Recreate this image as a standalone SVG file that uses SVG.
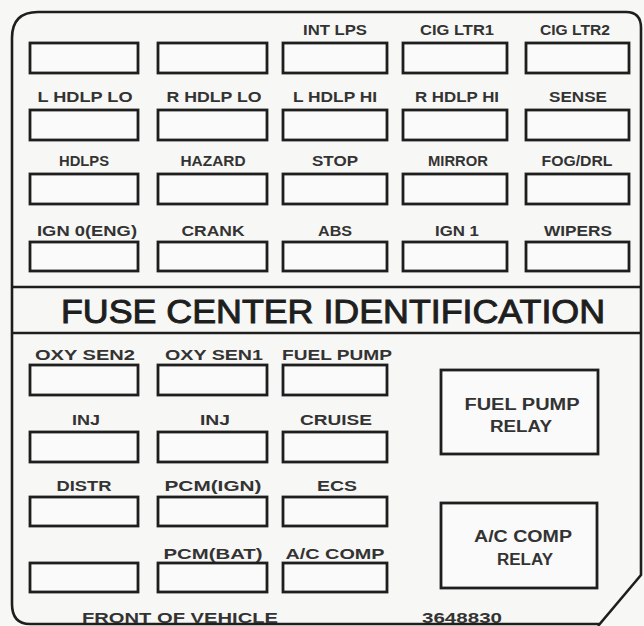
<svg xmlns="http://www.w3.org/2000/svg" width="644" height="626" viewBox="0 0 644 626">
<style>
.bg{fill:#f7f7f5}
.fr{fill:none;stroke:#1e1e1e;stroke-width:2.6;stroke-linejoin:round}
.fu{fill:#fafafa;stroke:#1e1e1e;stroke-width:2.8}
.ln{stroke:#1e1e1e;stroke-width:2.6}
.t{font-family:"Liberation Sans",Arial,sans-serif;font-weight:bold;font-size:14px;fill:#333;text-anchor:middle}
.r{font-size:16px}
.ttl{font-family:"Liberation Sans",Arial,sans-serif;font-size:34px;fill:#1e1e1e;stroke:#1e1e1e;stroke-width:1;text-anchor:middle}
</style>
<rect class="bg" x="0" y="0" width="644" height="626"/>
<path class="fr" d="M12,38 Q12,12 38,12 L626,12 Q641,12 641,28 L641,575 L598,626 M12,38 L12,604 Q12,624 30,624 L600,624"/>
<line class="ln" x1="12" y1="287" x2="641" y2="287"/>
<line class="ln" x1="12" y1="333" x2="641" y2="333"/>
<text class="ttl" x="333" y="323" textLength="544" lengthAdjust="spacingAndGlyphs">FUSE CENTER IDENTIFICATION</text>

<g id="fuse-r1c1"><rect class="fu" x="30" y="43" width="108" height="30"/></g>
<g id="fuse-r1c2"><rect class="fu" x="158" y="43" width="109" height="30"/></g>
<g id="fuse-int-lps"><text class="t" x="335" y="35" textLength="64" lengthAdjust="spacingAndGlyphs">INT LPS</text><rect class="fu" x="283" y="43" width="104" height="30"/></g>
<g id="fuse-cig-ltr1"><text class="t" x="457" y="35" textLength="74" lengthAdjust="spacingAndGlyphs">CIG LTR1</text><rect class="fu" x="403" y="43" width="104" height="30"/></g>
<g id="fuse-cig-ltr2"><text class="t" x="575" y="35" textLength="70" lengthAdjust="spacingAndGlyphs">CIG LTR2</text><rect class="fu" x="526" y="43" width="103" height="30"/></g>

<g id="fuse-l-hdlp-lo"><text class="t" x="85" y="102" textLength="95" lengthAdjust="spacingAndGlyphs">L HDLP LO</text><rect class="fu" x="30" y="110" width="108" height="30"/></g>
<g id="fuse-r-hdlp-lo"><text class="t" x="214" y="102" textLength="95" lengthAdjust="spacingAndGlyphs">R HDLP LO</text><rect class="fu" x="158" y="110" width="109" height="30"/></g>
<g id="fuse-l-hdlp-hi"><text class="t" x="335" y="102" textLength="84" lengthAdjust="spacingAndGlyphs">L HDLP HI</text><rect class="fu" x="283" y="110" width="104" height="30"/></g>
<g id="fuse-r-hdlp-hi"><text class="t" x="457" y="102" textLength="84" lengthAdjust="spacingAndGlyphs">R HDLP HI</text><rect class="fu" x="403" y="110" width="104" height="30"/></g>
<g id="fuse-sense"><text class="t" x="578" y="102" textLength="58" lengthAdjust="spacingAndGlyphs">SENSE</text><rect class="fu" x="526" y="110" width="103" height="30"/></g>

<g id="fuse-hdlps"><text class="t" x="84" y="166" textLength="50" lengthAdjust="spacingAndGlyphs">HDLPS</text><rect class="fu" x="30" y="174" width="108" height="30"/></g>
<g id="fuse-hazard"><text class="t" x="213" y="166" textLength="65" lengthAdjust="spacingAndGlyphs">HAZARD</text><rect class="fu" x="158" y="174" width="109" height="30"/></g>
<g id="fuse-stop"><text class="t" x="335" y="166" textLength="46" lengthAdjust="spacingAndGlyphs">STOP</text><rect class="fu" x="283" y="174" width="104" height="30"/></g>
<g id="fuse-mirror"><text class="t" x="458" y="166" textLength="60" lengthAdjust="spacingAndGlyphs">MIRROR</text><rect class="fu" x="403" y="174" width="104" height="30"/></g>
<g id="fuse-fog-drl"><text class="t" x="577" y="166" textLength="71" lengthAdjust="spacingAndGlyphs">FOG/DRL</text><rect class="fu" x="526" y="174" width="103" height="30"/></g>

<g id="fuse-ign0-eng"><text class="t" x="87" y="236" textLength="100" lengthAdjust="spacingAndGlyphs">IGN 0(ENG)</text><rect class="fu" x="30" y="242" width="108" height="29"/></g>
<g id="fuse-crank"><text class="t" x="213" y="236" textLength="63" lengthAdjust="spacingAndGlyphs">CRANK</text><rect class="fu" x="158" y="242" width="109" height="29"/></g>
<g id="fuse-abs"><text class="t" x="335" y="236" textLength="34" lengthAdjust="spacingAndGlyphs">ABS</text><rect class="fu" x="283" y="242" width="104" height="29"/></g>
<g id="fuse-ign1"><text class="t" x="457" y="236" textLength="44" lengthAdjust="spacingAndGlyphs">IGN 1</text><rect class="fu" x="403" y="242" width="104" height="29"/></g>
<g id="fuse-wipers"><text class="t" x="578" y="236" textLength="68" lengthAdjust="spacingAndGlyphs">WIPERS</text><rect class="fu" x="526" y="242" width="103" height="29"/></g>

<g id="fuse-oxy-sen2"><text class="t" x="85" y="360" textLength="100" lengthAdjust="spacingAndGlyphs">OXY SEN2</text><rect class="fu" x="30" y="365" width="108" height="30"/></g>
<g id="fuse-oxy-sen1"><text class="t" x="214" y="360" textLength="98" lengthAdjust="spacingAndGlyphs">OXY SEN1</text><rect class="fu" x="158" y="365" width="109" height="30"/></g>
<g id="fuse-fuel-pump"><text class="t" x="337" y="360" textLength="110" lengthAdjust="spacingAndGlyphs">FUEL PUMP</text><rect class="fu" x="283" y="365" width="104" height="30"/></g>

<g id="fuse-inj-1"><text class="t" x="86" y="425" textLength="28" lengthAdjust="spacingAndGlyphs">INJ</text><rect class="fu" x="30" y="432" width="108" height="30"/></g>
<g id="fuse-inj-2"><text class="t" x="215" y="425" textLength="30" lengthAdjust="spacingAndGlyphs">INJ</text><rect class="fu" x="158" y="432" width="109" height="30"/></g>
<g id="fuse-cruise"><text class="t" x="336" y="425" textLength="72" lengthAdjust="spacingAndGlyphs">CRUISE</text><rect class="fu" x="283" y="432" width="104" height="30"/></g>

<g id="fuse-distr"><text class="t" x="84" y="491" textLength="55" lengthAdjust="spacingAndGlyphs">DISTR</text><rect class="fu" x="30" y="497" width="108" height="29"/></g>
<g id="fuse-pcm-ign"><text class="t" x="213" y="491" textLength="97" lengthAdjust="spacingAndGlyphs">PCM(IGN)</text><rect class="fu" x="158" y="497" width="109" height="29"/></g>
<g id="fuse-ecs"><text class="t" x="337" y="491" textLength="40" lengthAdjust="spacingAndGlyphs">ECS</text><rect class="fu" x="283" y="497" width="104" height="29"/></g>

<g id="fuse-r4c1"><rect class="fu" x="30" y="563" width="108" height="29"/></g>
<g id="fuse-pcm-bat"><text class="t" x="213" y="559" textLength="99" lengthAdjust="spacingAndGlyphs">PCM(BAT)</text><rect class="fu" x="158" y="563" width="109" height="29"/></g>
<g id="fuse-ac-comp"><text class="t" x="335" y="559" textLength="99" lengthAdjust="spacingAndGlyphs">A/C COMP</text><rect class="fu" x="283" y="563" width="104" height="29"/></g>

<g id="relay-fuel-pump"><rect class="fu" x="441" y="370" width="157" height="84"/><text class="t r" x="522" y="410" textLength="115" lengthAdjust="spacingAndGlyphs">FUEL PUMP</text><text class="t r" x="521" y="432" textLength="62" lengthAdjust="spacingAndGlyphs">RELAY</text></g>
<g id="relay-ac-comp"><rect class="fu" x="441" y="503" width="156" height="85"/><text class="t r" x="523" y="542" textLength="98" lengthAdjust="spacingAndGlyphs">A/C COMP</text><text class="t r" x="525" y="565" textLength="56" lengthAdjust="spacingAndGlyphs">RELAY</text></g>

<text class="t" x="180" y="623" textLength="196" lengthAdjust="spacingAndGlyphs">FRONT OF VEHICLE</text>
<text class="t" x="462" y="623" textLength="80" lengthAdjust="spacingAndGlyphs">3648830</text>
</svg>
